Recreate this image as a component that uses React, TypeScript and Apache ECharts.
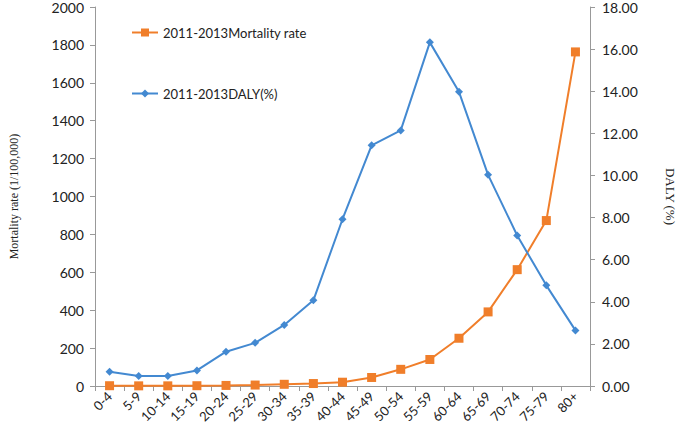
import React, { useEffect, useRef } from "react";
import * as echarts from "echarts";

const categories = ["0-4","5-9","10-14","15-19","20-24","25-29","30-34","35-39","40-44","45-49","50-54","55-59","60-64","65-69","70-74","75-79","80+"];
const mortality = [1.5, 0.8, 0.8, 1.5, 3, 5, 9, 13, 20, 45, 88, 140, 252, 391, 614, 873, 1763];
const daly = [0.68, 0.47, 0.47, 0.74, 1.63, 2.05, 2.9, 4.07, 7.92, 11.43, 12.14, 16.32, 13.97, 10.03, 7.15, 4.78, 2.64];
const mortalityName = "2011-2013Mortality rate";
const dalyName = "2011-2013DALY(%)";

const ORANGE = "#F07E2A";
const BLUE = "#4389D1";
const FONT = "Lato, 'Open Sans', sans-serif";
const SERIF = "'Liberation Serif', 'DejaVu Serif', serif";

export default function App() {
  const ref = useRef<HTMLDivElement>(null);
  useEffect(() => {
    const chart = echarts.init(ref.current!, null, { renderer: "svg" });
    chart.setOption({
      animation: false,
      backgroundColor: "#fff",
      grid: { left: 90, right: 90, top: 7, bottom: 44 },
      legend: {
        orient: "vertical",
        left: 126,
        top: 21,
        itemGap: 48,
        itemWidth: 26,
        itemHeight: 10,
        textStyle: { fontFamily: FONT, fontSize: 13, color: "#222" },
        data: [mortalityName, dalyName],
      },
      xAxis: {
        type: "category",
        data: categories,
        boundaryGap: true,
        axisLine: { lineStyle: { color: "#999" } },
        axisTick: { show: true, length: 5, lineStyle: { color: "#999" } },
        axisLabel: { rotate: 45, fontFamily: FONT, fontSize: 13, color: "#222", margin: 8, interval: 0 },
      },
      yAxis: [
        {
          type: "value",
          min: 0,
          max: 2000,
          interval: 200,
          name: "Mortality rate (1/100,000)",
          nameLocation: "middle",
          nameRotate: 90,
          nameGap: 75,
          nameTextStyle: { fontFamily: SERIF, fontSize: 12, color: "#222" },
          axisLine: { show: true, lineStyle: { color: "#999" } },
          axisTick: { show: true, length: 5, lineStyle: { color: "#999" } },
          splitLine: { show: false },
          axisLabel: { fontFamily: FONT, fontSize: 14, color: "#222", margin: 11, formatter: (v: number) => String(v) },
        },
        {
          type: "value",
          min: 0,
          max: 18,
          interval: 2,
          name: "DALY (%)",
          nameLocation: "middle",
          nameRotate: -90,
          nameGap: 74,
          nameTextStyle: { fontFamily: SERIF, fontSize: 13, color: "#222" },
          axisLine: { show: true, lineStyle: { color: "#999" } },
          axisTick: { show: true, length: 5, lineStyle: { color: "#999" } },
          splitLine: { show: false },
          axisLabel: { fontFamily: FONT, fontSize: 14, color: "#222", margin: 12, formatter: (v: number) => v.toFixed(2) },
        },
      ],
      series: [
        {
          name: mortalityName,
          type: "line",
          yAxisIndex: 0,
          data: mortality,
          symbol: "rect",
          symbolSize: 9,
          itemStyle: { color: ORANGE },
          lineStyle: { color: ORANGE, width: 2 },
        },
        {
          name: dalyName,
          type: "line",
          yAxisIndex: 1,
          data: daly,
          symbol: "diamond",
          symbolSize: 8,
          itemStyle: { color: BLUE },
          lineStyle: { color: BLUE, width: 2 },
        },
      ],
    });
    return () => chart.dispose();
  }, []);
  return <div ref={ref} style={{ width: 685, height: 430, position: "absolute", left: 0, top: 0 }} />;
}
